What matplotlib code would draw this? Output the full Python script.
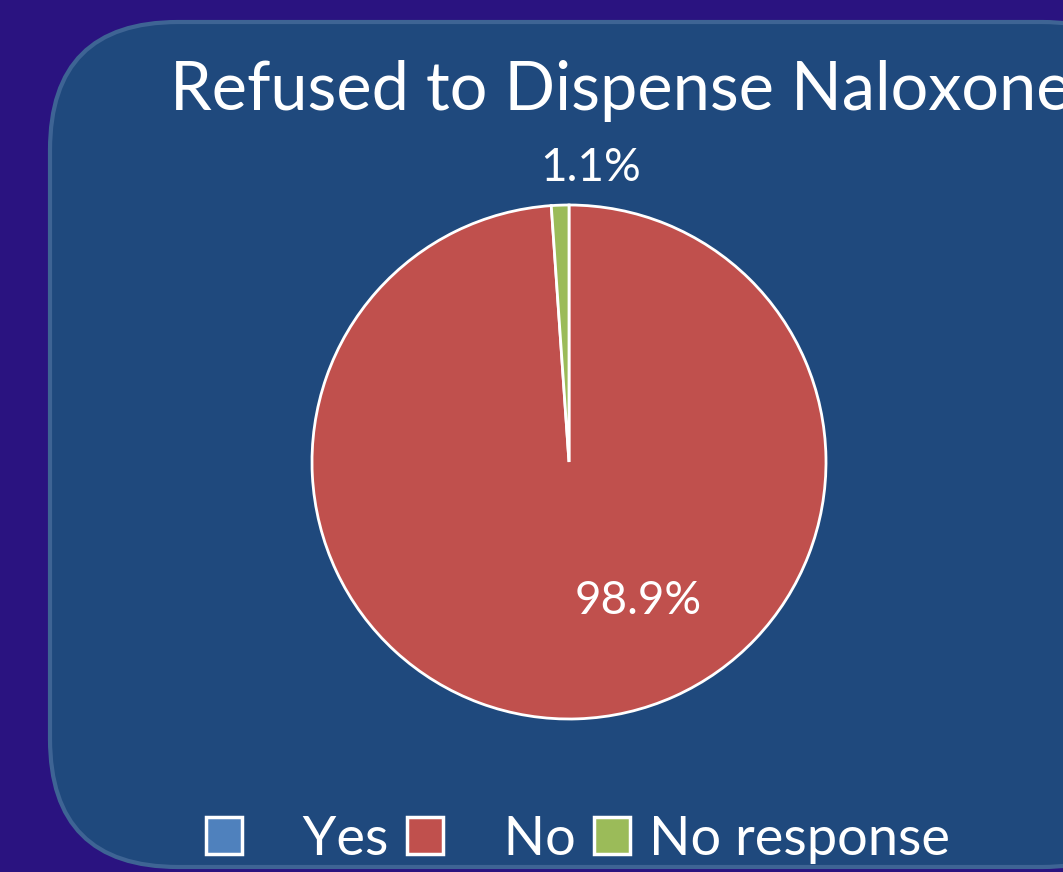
import matplotlib.pyplot as plt
from matplotlib.patches import FancyBboxPatch, Patch

plt.rcParams['font.family'] = ['Lato', 'DejaVu Sans']

# data
title = "Refused to Dispense Naloxone"
categories = ["Yes", "No", "No response"]
values = [0.0, 98.9, 1.1]
colors = ["#4f81bd", "#c0504d", "#9bbb59"]

fig = plt.figure(figsize=(10.63, 8.72), dpi=100)
fig.patch.set_facecolor("#2a1380")

# rounded background panel (pixel coordinates)
bg = fig.add_axes([0, 0, 1, 1])
bg.set_xlim(0, 1063)
bg.set_ylim(872, 0)
bg.axis("off")
panel = FancyBboxPatch((50, 22), 1120, 845,
                       boxstyle="round,pad=0,rounding_size=128",
                       facecolor="#1f497d", edgecolor="#3e6494", linewidth=3)
bg.add_patch(panel)

fig.text(170 / 1063, 1 - 110 / 872, title, ha="left", va="baseline",
         fontsize=48, color="white")

# pie
ax = fig.add_axes([312 / 1063, 153 / 872, 514 / 1063, 514 / 872])
ax.set_facecolor("none")
wedges, texts, autotexts = ax.pie(
    values, colors=colors, startangle=90, counterclock=False,
    autopct=lambda p: f"{p:.1f}%" if p > 0.5 else "",
    wedgeprops=dict(edgecolor="white", linewidth=2),
    textprops=dict(color="white", fontsize=33))
ax.set_xlim(-1, 1)
ax.set_ylim(-1, 1)

# label placement like the original (best fit)
autotexts[1].set_position((0.27, -0.54))
autotexts[2].set_position((0.085, 1.145))

handles = [Patch(facecolor=c, edgecolor="white", linewidth=2.5) for c in colors]
labels = ["   " + categories[0], "   " + categories[1], categories[2]]
leg = fig.legend(handles, labels, loc="center", bbox_to_anchor=(578 / 1063, 1 - 839 / 872),
                 ncol=3, frameon=False, fontsize=39, labelcolor="white",
                 handlelength=0.66, handleheight=0.66, handletextpad=0.35,
                 columnspacing=0.35)

plt.savefig("out.png", dpi=100, facecolor=fig.get_facecolor())
